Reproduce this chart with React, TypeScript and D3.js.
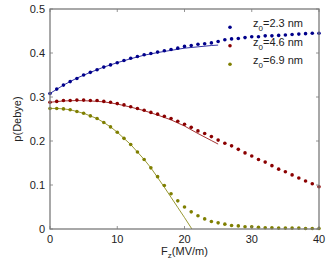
import * as d3 from 'd3'
import { useEffect, useRef } from 'react'

// field values F_z (MV/m), one per data point
const fieldValues = d3.range(0, 41)

// measured dipole p (Debye) for each z0
const pBlue = [
	0.308, 0.318, 0.327, 0.335, 0.342, 0.35, 0.356, 0.362, 0.368, 0.373, 0.378,
	0.383, 0.388, 0.392, 0.396, 0.399, 0.402, 0.405, 0.408, 0.411, 0.415, 0.417,
	0.42, 0.421, 0.423, 0.426, 0.43, 0.432, 0.433, 0.435, 0.437, 0.437, 0.439,
	0.439, 0.44, 0.441, 0.442, 0.443, 0.444, 0.445, 0.445,
]
const pRed = [
	0.288, 0.29, 0.292, 0.292, 0.293, 0.293, 0.292, 0.292, 0.29, 0.288, 0.285,
	0.282, 0.278, 0.274, 0.27, 0.265, 0.261, 0.256, 0.251, 0.245, 0.238, 0.231,
	0.223, 0.217, 0.21, 0.202, 0.195, 0.189, 0.181, 0.173, 0.166, 0.158, 0.152,
	0.144, 0.136, 0.13, 0.123, 0.116, 0.109, 0.103, 0.096,
]
const pOlive = [
	0.274, 0.274, 0.273, 0.271, 0.267, 0.263, 0.257, 0.251, 0.242, 0.232, 0.22,
	0.206, 0.192, 0.175, 0.158, 0.139, 0.119, 0.099, 0.08, 0.064, 0.05, 0.039,
	0.03, 0.023, 0.017, 0.014, 0.011, 0.008, 0.007, 0.005, 0.005, 0.004, 0.003,
	0.003, 0.002, 0.002, 0.002, 0.002, 0.001, 0.001, 0.001,
]

// model curves (thin lines)
const fitBlueX = [0, 2, 4, 6, 8, 10, 12, 14, 16, 18, 20, 22, 24, 25]
const fitBlueY = [0.308, 0.327, 0.343, 0.356, 0.368, 0.378, 0.387, 0.395, 0.401, 0.406, 0.411, 0.414, 0.417, 0.418]
const fitRedX = [0, 2, 4, 6, 8, 10, 12, 14, 16, 18, 20, 22, 24, 25]
const fitRedY = [0.288, 0.291, 0.292, 0.291, 0.289, 0.284, 0.277, 0.269, 0.259, 0.248, 0.234, 0.217, 0.201, 0.193]
const fitOliveX = [0, 1, 2, 3, 4, 5, 6, 7, 8, 9, 10, 11, 12, 13, 14, 15, 16, 17, 18, 19, 20, 21.1]
const fitOliveY = [
	0.274, 0.274, 0.273, 0.271, 0.267, 0.263, 0.257, 0.251, 0.242, 0.232, 0.22,
	0.206, 0.192, 0.175, 0.158, 0.139, 0.117, 0.095, 0.072, 0.049, 0.026, 0,
]

const xTicks = [0, 10, 20, 30, 40]
const yTicks = [0, 0.1, 0.2, 0.3, 0.4, 0.5]
const legendLabels = ['2.3', '4.6', '6.9']
const colors = ['#00008b', '#8b0000', '#7f7f00']

export default function App() {
	const svgRef = useRef<SVGSVGElement>(null)

	useEffect(() => {
		const svg = d3.select(svgRef.current)
		svg.selectAll('*').remove()

		const left = 50
		const right = 319
		const top = 9
		const bottom = 229
		const font = '"Liberation Sans", Arial, sans-serif'

		const x = d3.scaleLinear().domain([0, 40]).range([left, right])
		const y = d3.scaleLinear().domain([0, 0.5]).range([bottom, top])

		const plot = svg.append('g')

		const series = [
			{ pts: pBlue, fx: fitBlueX, fy: fitBlueY },
			{ pts: pRed, fx: fitRedX, fy: fitRedY },
			{ pts: pOlive, fx: fitOliveX, fy: fitOliveY },
		]

		const line = d3
			.line<[number, number]>()
			.x((d) => x(d[0]))
			.y((d) => y(d[1]))

		series.forEach((s, i) => {
			plot
				.append('g')
				.selectAll('circle')
				.data(s.pts)
				.enter()
				.append('circle')
				.attr('cx', (_, j) => x(fieldValues[j]))
				.attr('cy', (d) => y(d))
				.attr('r', 1.8)
				.attr('fill', colors[i])
		})

		series.forEach((s, i) => {
			plot
				.append('path')
				.datum(s.fx.map((v, j) => [v, s.fy[j]] as [number, number]))
				.attr('fill', 'none')
				.attr('stroke', colors[i])
				.attr('stroke-width', 0.8)
				.attr('d', line)
		})

		// ----------- box + ticks -----------
		const axisColor = '#7a7a7a'
		const tickLen = 3
		const ticks = svg.append('g').attr('stroke', axisColor).attr('stroke-width', 0.8)
		xTicks.forEach((t) => {
			ticks.append('line').attr('x1', x(t)).attr('x2', x(t)).attr('y1', bottom).attr('y2', bottom - tickLen)
			ticks.append('line').attr('x1', x(t)).attr('x2', x(t)).attr('y1', top).attr('y2', top + tickLen)
		})
		yTicks.forEach((t) => {
			ticks.append('line').attr('x1', left).attr('x2', left + tickLen).attr('y1', y(t)).attr('y2', y(t))
			ticks.append('line').attr('x1', right).attr('x2', right - tickLen).attr('y1', y(t)).attr('y2', y(t))
		})

		svg
			.append('rect')
			.attr('x', left)
			.attr('y', top)
			.attr('width', right - left)
			.attr('height', bottom - top)
			.attr('fill', 'none')
			.attr('stroke', axisColor)
			.attr('stroke-width', 1.3)

		// tick labels
		svg
			.append('g')
			.selectAll('text')
			.data(xTicks)
			.enter()
			.append('text')
			.attr('x', (d) => x(d))
			.attr('y', 243)
			.attr('text-anchor', 'middle')
			.attr('font-family', font)
			.attr('font-size', 11)
			.attr('fill', '#222')
			.text((d) => String(d))

		svg
			.append('g')
			.selectAll('text')
			.data(yTicks)
			.enter()
			.append('text')
			.attr('x', 45)
			.attr('y', (d) => y(d) + 4)
			.attr('text-anchor', 'end')
			.attr('font-family', font)
			.attr('font-size', 11)
			.attr('fill', '#222')
			.text((d) => (d === 0 ? '0' : String(d)))

		// axis labels
		svg
			.append('text')
			.attr('transform', `translate(21,${(top + bottom) / 2}) rotate(-90)`)
			.attr('text-anchor', 'middle')
			.attr('font-family', font)
			.attr('font-size', 11)
			.attr('fill', '#222')
			.text('p(Debye)')

		const xl = svg
			.append('text')
			.attr('x', (left + right) / 2)
			.attr('y', 255)
			.attr('text-anchor', 'middle')
			.attr('font-family', font)
			.attr('font-size', 11)
			.attr('fill', '#222')
		xl.append('tspan').text('F')
		xl.append('tspan').attr('dy', 3).attr('font-size', 8).text('z')
		xl.append('tspan').attr('dy', -3).text('(MV/m)')

		// legend
		legendLabels.forEach((lab, i) => {
			const ly = 27.3 + i * 18.5
			svg.append('circle').attr('cx', 230).attr('cy', ly).attr('r', 1.8).attr('fill', colors[i])
			const t = svg
				.append('text')
				.attr('x', 253)
				.attr('y', ly)
				.attr('font-family', font)
				.attr('font-size', 11)
				.attr('fill', '#222')
			t.append('tspan').text('z')
			t.append('tspan').attr('dy', 4).attr('font-size', 8).text('0')
			t.append('tspan').attr('dy', -4).text(`=${lab} nm`)
		})
	}, [])

	return (
		<svg
			ref={svgRef}
			width={329}
			height={279}
			style={{ position: 'absolute', left: 0, top: 0, background: '#fff' }}
		/>
	)
}
